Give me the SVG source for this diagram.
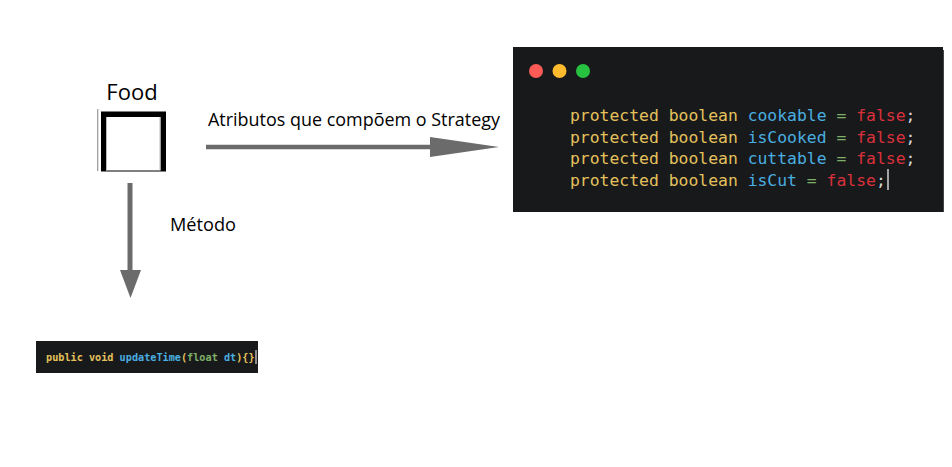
<svg xmlns="http://www.w3.org/2000/svg" width="952" height="467" viewBox="0 0 952 467">
<defs>
<style>
.lbl{font-family:"Open Sans","Noto Sans","Liberation Sans",sans-serif;fill:#000}
.code{font-family:"DejaVu Sans Mono","Liberation Mono",monospace;font-size:16.4px}
.code2{font-family:"DejaVu Sans Mono","Liberation Mono",monospace;font-size:10.2px;font-weight:600}
.kw{fill:#e5c15c}
.id{fill:#4aaee0}
.eq{fill:#7fb069}
.fl{fill:#d8313c}
.pu{fill:#d8d8d8}
.conn{stroke:#6b6b6b;fill:none}
</style>
</defs>
<rect width="952" height="467" fill="#fff"/>
<g id="food">
<text class="lbl" x="132" y="100" font-size="22" text-anchor="middle">Food</text>
<line x1="97.7" y1="109" x2="97.7" y2="171" stroke="#999" stroke-width="1.2"/>
<path d="M101,111.5H166V171.5H101Z M106,117V170.5H160.5V117Z" fill="#000" fill-rule="evenodd"/>
<line x1="106.5" y1="117" x2="106.5" y2="170.5" stroke="#bbb" stroke-width="1"/>
<line x1="160" y1="117" x2="160" y2="170.5" stroke="#bbb" stroke-width="1"/>
</g>
<g id="connectors">
<line class="conn" x1="206" y1="147" x2="432" y2="147" stroke-width="4.5"/>
<polygon points="430,137 499,147 430,157" fill="#6b6b6b"/>
<line class="conn" x1="130" y1="183" x2="130" y2="272" stroke-width="5"/>
<polygon points="120,270 141,270 130.5,298" fill="#6b6b6b"/>
<text class="lbl" x="208" y="126" font-size="17.5" textLength="292" lengthAdjust="spacingAndGlyphs">Atributos que compõem o Strategy</text>
<text class="lbl" x="170" y="231" font-size="18" textLength="66" lengthAdjust="spacingAndGlyphs">Método</text>
</g>
<g id="strategy-code">
<rect x="513" y="47" width="430" height="165" fill="#18191b"/>
<line x1="943.5" y1="50" x2="943.5" y2="212" stroke="#444" stroke-width="1"/>
<circle cx="536" cy="71" r="7" fill="#fb5a56"/>
<circle cx="559.5" cy="71" r="7" fill="#fdbb2d"/>
<circle cx="583" cy="71" r="7" fill="#27c23f"/>
<text class="code" x="570" y="121"><tspan class="kw">protected boolean </tspan><tspan class="id">cookable </tspan><tspan class="eq">= </tspan><tspan class="fl">false</tspan><tspan class="pu">;</tspan></text>
<text class="code" x="570" y="142.5"><tspan class="kw">protected boolean </tspan><tspan class="id">isCooked </tspan><tspan class="eq">= </tspan><tspan class="fl">false</tspan><tspan class="pu">;</tspan></text>
<text class="code" x="570" y="164"><tspan class="kw">protected boolean </tspan><tspan class="id">cuttable </tspan><tspan class="eq">= </tspan><tspan class="fl">false</tspan><tspan class="pu">;</tspan></text>
<text class="code" x="570" y="185.5"><tspan class="kw">protected boolean </tspan><tspan class="id">isCut </tspan><tspan class="eq">= </tspan><tspan class="fl">false</tspan><tspan class="pu">;</tspan></text>
<line x1="888" y1="169" x2="888" y2="190" stroke="#fff" stroke-width="1.2"/>
</g>
<g id="method-code">
<rect x="36" y="341" width="222" height="32" fill="#18191b"/>
<text class="code2" x="46" y="361"><tspan class="kw">public void </tspan><tspan class="id">updateTime</tspan><tspan class="kw">(</tspan><tspan class="eq">float </tspan><tspan class="id">dt</tspan><tspan class="kw">){}</tspan></text>
<line x1="256" y1="350" x2="256" y2="364" stroke="#fff" stroke-width="1"/>
</g>
</svg>
